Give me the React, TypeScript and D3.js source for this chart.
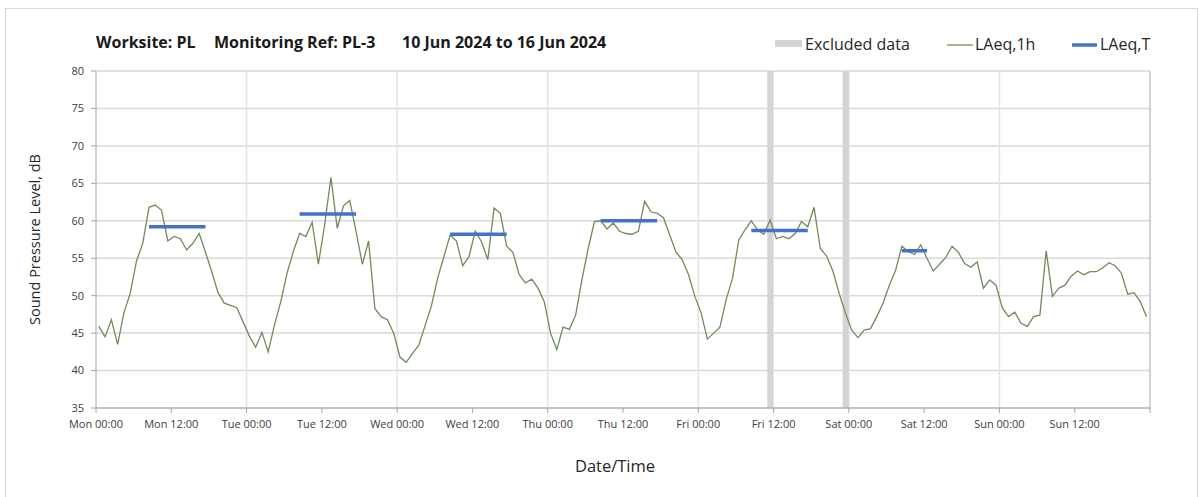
import React from "react";
import * as d3 from "d3";

const laeq1h: number[] = [
  45.9, 44.5, 46.8, 43.5, 47.7, 50.3, 54.6, 57.0, 61.8, 62.1, 61.4, 57.3, 57.9, 57.6, 56.1, 57.0, 58.3,
  55.8, 53.2, 50.4, 49.0, 48.7, 48.4, 46.5, 44.6, 43.1, 45.1, 42.5, 46.1, 49.2, 53.0, 55.9,
  58.3, 57.9, 59.8, 54.2, 59.5, 65.8, 59.0, 62.0, 62.7, 58.6, 54.2, 57.3, 48.3, 47.2, 46.8, 45.0, 41.8, 41.1,
  42.3, 43.4, 46.0, 48.6, 52.3, 55.2, 58.1, 57.3, 54.0, 55.2, 58.6, 57.2, 54.8, 61.7, 61.0, 56.6,
  55.8, 52.8, 51.7, 52.2, 51.0, 49.2, 45.0, 42.8, 45.8, 45.5, 47.4, 52.1, 56.3, 59.9, 60.0, 58.9, 59.7, 58.6,
  58.3, 58.2, 58.6, 62.6, 61.2, 61.0, 60.4, 58.1, 55.8, 54.8, 52.8, 49.9, 47.7, 44.2, 45.0, 45.8,
  49.5, 52.3, 57.4, 58.8, 60.0, 58.8, 58.2, 60.1, 57.6, 57.9, 57.6, 58.3, 59.9, 59.2, 61.8, 56.3, 55.3,
  53.3, 50.3, 47.7, 45.4, 44.4, 45.4, 45.6, 47.2, 49.0, 51.4, 53.4, 56.6, 55.9, 55.5, 56.8, 55.0, 53.3,
  54.2, 55.1, 56.6, 55.8, 54.3, 53.8, 54.5, 51.0, 52.1, 51.4, 48.4, 47.2, 47.8, 46.3, 45.9, 47.2, 47.4,
  56.0, 49.9, 51.0, 51.4, 52.6, 53.3, 52.8, 53.2, 53.2, 53.7, 54.4, 54.0, 53.0, 50.2, 50.4, 49.2, 47.2,
];

const periodStartHour = [8, 32, 56, 80, 104, 128];
const periodEndHour = [17, 41, 65, 89, 113, 132];
const periodLevel = [59.2, 60.9, 58.2, 60.0, 58.7, 56.0];

const excludedStart = [107, 119];
const excludedEnd = [108, 120];

const dayNames = ["Mon", "Tue", "Wed", "Thu", "Fri", "Sat", "Sun"];
const timeLabels = ["00:00", "12:00"];
const yTicks = [35, 40, 45, 50, 55, 60, 65, 70, 75, 80];

const W = 1203;
const H = 497;
const LEFT = 96;
const RIGHT = 1150;
const TOP = 71;
const BOTTOM = 408;
const OFFSET = 0.45;
const FONT = "'Open Sans', 'Noto Sans', sans-serif";

export default function App() {
  const x = d3.scaleLinear().domain([0, 168]).range([LEFT, RIGHT]);
  const y = d3.scaleLinear().domain([35, 80]).range([BOTTOM, TOP]);

  const line = d3
    .line<number>()
    .x((_, i) => x(i + OFFSET))
    .y((d) => y(d));

  const xTickHours = d3.range(0, 169, 12);
  const labelHours = d3.range(0, 157, 12);
  const midnightHours = d3.range(24, 168, 24);

  return (
    <div style={{ position: "absolute", left: 0, top: 0 }}>
      <svg width={W} height={H} style={{ display: "block", background: "#fff" }}>
        <rect x={5.5} y={8.5} width={1192} height={492} fill="#fff" stroke="#d9d9d9" strokeWidth={1} />

        {yTicks.map((t) => (
          <line key={"hg" + t} x1={LEFT} x2={RIGHT} y1={y(t)} y2={y(t)} stroke="#d9d9d9" strokeWidth={1.5} />
        ))}
        {midnightHours.map((h) => (
          <line key={"vg" + h} x1={x(h)} x2={x(h)} y1={TOP} y2={BOTTOM} stroke="#e3e3e3" strokeWidth={1.5} />
        ))}

        {excludedStart.map((s, i) => (
          <rect
            key={"ex" + i}
            x={x(s)}
            y={TOP}
            width={x(excludedEnd[i]) - x(s)}
            height={BOTTOM - TOP}
            fill="#d4d4d4"
          />
        ))}

        <line x1={LEFT} x2={LEFT} y1={TOP} y2={BOTTOM} stroke="#a6a6a6" strokeWidth={1} />
        <line x1={RIGHT} x2={RIGHT} y1={TOP} y2={BOTTOM} stroke="#a6a6a6" strokeWidth={1} />
        <line x1={LEFT} x2={RIGHT} y1={BOTTOM} y2={BOTTOM} stroke="#a6a6a6" strokeWidth={1} />
        {yTicks.map((t) => (
          <g key={"yt" + t}>
            <line x1={LEFT - 5} x2={LEFT} y1={y(t)} y2={y(t)} stroke="#a6a6a6" />
            <text
              x={LEFT - 12}
              y={y(t)}
              dy="0.35em"
              textAnchor="end"
              fontFamily={FONT}
              fontSize={11}
              fill="#404040"
            >
              {t}
            </text>
          </g>
        ))}
        {xTickHours.map((h) => (
          <line key={"xt" + h} x1={x(h)} x2={x(h)} y1={BOTTOM} y2={BOTTOM + 5} stroke="#a6a6a6" />
        ))}
        {labelHours.map((h) => (
          <text
            key={"xl" + h}
            x={x(h)}
            y={428}
            textAnchor="middle"
            fontFamily={FONT}
            fontSize={11}
            fill="#404040"
          >
            {dayNames[Math.floor(h / 24)] + " " + timeLabels[(h % 24) / 12]}
          </text>
        ))}

        <path d={line(laeq1h) || ""} fill="none" stroke="#6f8c58" strokeWidth={1.3} />

        {periodStartHour.map((s, i) => (
          <line
            key={"pt" + i}
            x1={x(s + OFFSET)}
            x2={x(periodEndHour[i] + OFFSET)}
            y1={y(periodLevel[i])}
            y2={y(periodLevel[i])}
            stroke="#4472c4"
            strokeWidth={3.5}
          />
        ))}

        <g fontFamily={FONT} fontSize={16} fontWeight="bold" fill="#1a1a1a">
          <text x={96} y={48}>Worksite: PL</text>
          <text x={214} y={48}>Monitoring Ref: PL-3</text>
          <text x={402} y={48}>10 Jun 2024 to 16 Jun 2024</text>
        </g>

        <g fontFamily={FONT} fontSize={16} fill="#262626">
          <rect x={775} y={40} width={27} height={7} fill="#d4d4d4" />
          <text x={805} y={50}>Excluded data</text>
          <line x1={947} x2={973} y1={45} y2={45} stroke="#6f8c58" strokeWidth={1.3} />
          <text x={975} y={50}>LAeq,1h</text>
          <line x1={1072} x2={1097} y1={45} y2={45} stroke="#4472c4" strokeWidth={3.5} />
          <text x={1100} y={50}>LAeq,T</text>
        </g>

        <text
          transform={`translate(40, ${(TOP + BOTTOM) / 2}) rotate(-90)`}
          textAnchor="middle"
          fontFamily={FONT}
          fontSize={14.5}
          fill="#262626"
        >
          Sound Pressure Level, dB
        </text>
        <text x={615} y={472} textAnchor="middle" fontFamily={FONT} fontSize={16.5} fill="#262626">
          Date/Time
        </text>
      </svg>
    </div>
  );
}
